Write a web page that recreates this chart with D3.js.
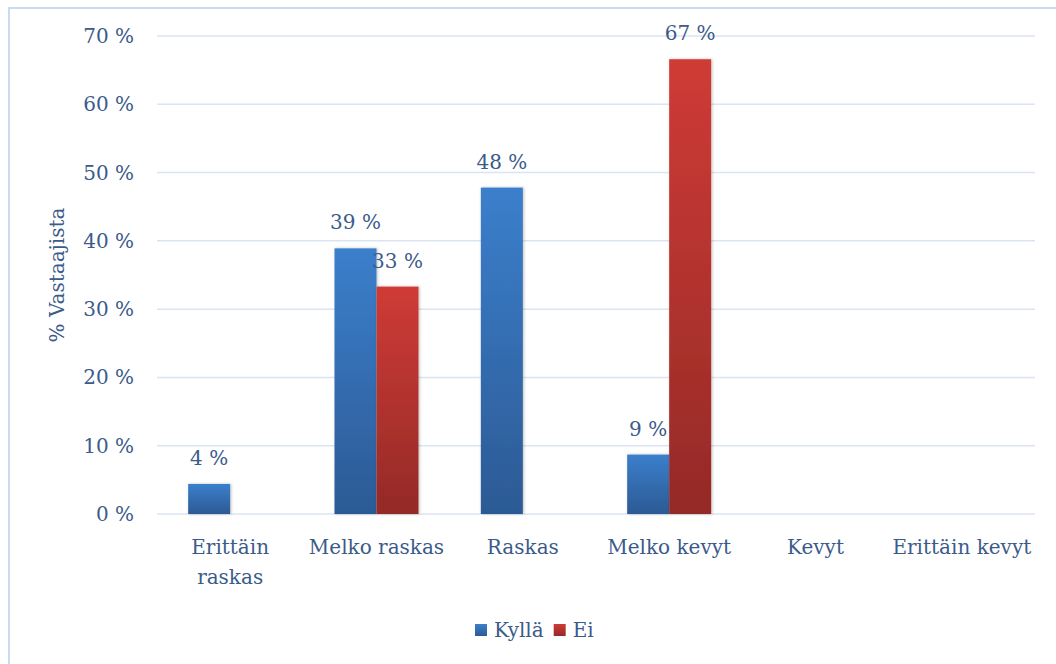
<!DOCTYPE html>
<html>
<head>
<meta charset="utf-8">
<script src="https://cdn.jsdelivr.net/npm/d3@7"></script>
<style>
  body { margin: 0; background: #fff; }
  svg text { font-family: "DejaVu Serif", serif; fill: #3b5b8a; }
</style>
</head>
<body>
<svg width="1056" height="664"></svg>
<script>
var categories = ["Erittäin raskas", "Melko raskas", "Raskas", "Melko kevyt", "Kevyt", "Erittäin kevyt"];
var seriesNames = ["Kyllä", "Ei"];
var kylla = [4.4, 38.9, 47.8, 8.7, 0, 0];
var ei = [0, 33.3, 0, 66.6, 0, 0];
var yTicks = [0, 10, 20, 30, 40, 50, 60, 70];

var svg = d3.select("svg"),
    margin = {left: 157, right: 21, top: 36, bottom: 150},
    width = 1056 - margin.left - margin.right,
    height = 664 - margin.top - margin.bottom;

// outer chart border
svg.append("rect")
    .attr("x", 9).attr("y", 8).attr("width", 1060).attr("height", 670)
    .attr("fill", "none").attr("stroke", "#c9dbf0").attr("stroke-width", 2);

var defs = svg.append("defs");
function grad(id, top, bottom) {
  var lg = defs.append("linearGradient").attr("id", id)
      .attr("x1", 0).attr("y1", 0).attr("x2", 0).attr("y2", 1);
  lg.append("stop").attr("offset", "0%").attr("stop-color", top);
  lg.append("stop").attr("offset", "100%").attr("stop-color", bottom);
}
grad("gBlue", "#3b7fcc", "#2c5a94");
grad("gRed", "#cf3b36", "#942a27");
var f = defs.append("filter").attr("id", "shadow").attr("x", "-20%").attr("width", "140%");
f.append("feDropShadow").attr("dx", 1).attr("dy", 0).attr("stdDeviation", 1.5)
    .attr("flood-color", "#000").attr("flood-opacity", 0.25);

var g = svg.append("g").attr("transform", "translate(" + margin.left + "," + margin.top + ")");

var x = d3.scaleBand().domain(categories).range([0, width]);
var xs = d3.scaleBand().domain(seriesNames).range([0, 84]);
var y = d3.scaleLinear().domain([0, 70]).range([478, 0]);

// gridlines
g.selectAll(".grid").data(yTicks).enter().append("line")
    .attr("x1", 0).attr("x2", width)
    .attr("y1", function(d) { return y(d); }).attr("y2", function(d) { return y(d); })
    .attr("stroke", "#dbe5f1").attr("stroke-width", 1.5);

// y tick labels
g.selectAll(".ytick").data(yTicks).enter().append("text")
    .attr("x", -23).attr("y", function(d) { return y(d); })
    .attr("dy", "0.35em").attr("text-anchor", "end")
    .style("font-size", "20px")
    .text(function(d) { return d + " %"; });

svg.append("text")
    .attr("transform", "translate(64," + (margin.top + 239) + ") rotate(-90)")
    .attr("text-anchor", "middle").style("font-size", "20px")
    .text("% Vastaajista");

var series = [
  {name: "Kyllä", values: kylla, fill: "url(#gBlue)"},
  {name: "Ei", values: ei, fill: "url(#gRed)"}
];

var groups = g.selectAll(".cat").data(categories).enter().append("g")
    .attr("transform", function(d) { return "translate(" + (x(d) + x.bandwidth() / 2 - 42) + ",0)"; });

series.forEach(function(s) {
  groups.filter(function(d, i) { return s.values[i] > 0; })
    .append("rect")
      .attr("x", xs(s.name))
      .attr("width", xs.bandwidth())
      .attr("y", function(d) { return y(s.values[categories.indexOf(d)]); })
      .attr("height", function(d) { return y(0) - y(s.values[categories.indexOf(d)]); })
      .attr("fill", s.fill)
      .attr("filter", "url(#shadow)");
});

series.forEach(function(s) {
  groups.filter(function(d, i) { return s.values[i] > 0; })
    .append("text")
      .attr("x", xs(s.name) + xs.bandwidth() / 2)
      .attr("y", function(d) { return y(s.values[categories.indexOf(d)]) - 19; })
      .attr("text-anchor", "middle")
      .style("font-size", "20px")
      .text(function(d) { return Math.round(s.values[categories.indexOf(d)]) + " %"; });
});

// category labels
g.selectAll(".xl").data(categories).enter().append("text")
    .attr("x", function(d) { return x(d) + x.bandwidth() / 2; })
    .attr("y", y(0) + 40)
    .attr("text-anchor", "middle")
    .style("font-size", "20px")
    .each(function(d) {
      var t = d3.select(this);
      var lines = d === "Erittäin raskas" ? ["Erittäin", "raskas"] : [d];
      lines.forEach(function(l, i) {
        t.append("tspan").attr("x", x(d) + x.bandwidth() / 2).attr("dy", i ? 30 : 0).text(l);
      });
    });

// legend
var legend = svg.append("g").attr("transform", "translate(475,630)");
var lx = 0;
series.forEach(function(s) {
  var item = legend.append("g").attr("transform", "translate(" + lx + ",0)");
  item.append("rect").attr("x", 0).attr("y", -6).attr("width", 12).attr("height", 12).attr("fill", s.fill);
  var t = item.append("text").attr("x", 19).attr("dy", "0.35em").style("font-size", "20px").text(s.name);
  lx += 19 + t.node().getComputedTextLength() + 10;
});
</script>
</body>
</html>
